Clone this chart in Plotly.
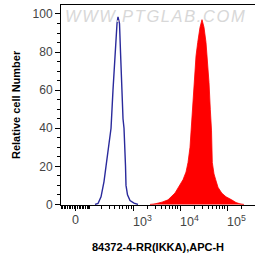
import numpy as np
import plotly.graph_objects as go

# ---- data (fluorescence intensity vs relative cell number) ----
blue_x = [131, 159, 190, 225, 251, 287, 328, 363, 403, 446, 469, 506, 532, 565,
          603, 634, 666, 683, 700, 754, 854, 1041, 1267]
blue_y = [0, 0.5, 4, 12, 20, 30, 40, 60, 80, 95, 98.5, 95, 80, 60,
          45, 40, 30, 20, 10, 5, 2, 0.7, 0]

red_x = [2284, 2919, 4114, 5520, 7780, 9940, 11510, 13340, 14710, 16220, 17040,
         18800, 19750, 21780, 23660, 26480, 29210, 32210, 35530, 38230, 41160,
         43850, 46500, 48360, 52600, 57140, 63960, 76680, 94620, 125200, 154400,
         187800, 228500]
red_y = [0, 0.3, 1.2, 2.4, 6, 10, 13, 17, 22, 30, 39,
         52, 64, 78, 85, 93, 97, 93, 85, 75, 64,
         50, 39, 22, 16, 13, 9, 6, 4, 2.4, 1, 0.3,
         0]

x_major_vals = [0, 1000, 10000, 100000]
x_major_text = ["0", "10<sup>3</sup>", "10<sup>4</sup>", "10<sup>5</sup>"]
x_minor_vals = ([-v for v in range(10, 100, 10)] + list(range(10, 100, 10)) +
                list(range(200, 1000, 100)) + list(range(2000, 10000, 1000)) +
                list(range(20000, 100000, 10000)) + [200000])
y_ticks = [0, 20, 40, 60, 80, 100]

# biexponential-like display transform
C = 120.0
def tf(v):
    return np.arcsinh(np.asarray(v, dtype=float) / C) / np.log(10)

FONT = "Liberation Sans, Arial, sans-serif"

fig = go.Figure()
fig.add_trace(go.Scatter(x=tf(red_x), y=red_y, mode="lines", fill="tozeroy",
                         line=dict(color="#ff0000", width=0.8),
                         fillcolor="#ff0000", hoverinfo="skip"))
fig.add_trace(go.Scatter(x=tf(blue_x), y=blue_y, mode="lines",
                         line=dict(color="#2a2a9c", width=1.4), hoverinfo="skip"))

# x tick labels (decade labels start at their tick, as in the reference)
tick_annots = []
for v, txt in zip(x_major_vals, x_major_text):
    tick_annots.append(dict(
        text=txt, xref="x", yref="paper", x=float(tf(v)), y=0,
        xanchor="center" if v == 0 else "left", xshift=0 if v == 0 else -2,
        yanchor="top", yshift=-6, showarrow=False,
        font=dict(family=FONT, size=12.5, color="#444")))

fig.update_layout(
    width=255, height=260,
    margin=dict(l=61, r=0, t=5, b=55),
    paper_bgcolor="white", plot_bgcolor="white",
    showlegend=False,
    font=dict(family=FONT, size=12, color="#444"),
    xaxis=dict(range=[-0.313, 3.815], showgrid=False, zeroline=False,
               automargin=False,
               showline=True, linecolor="black", linewidth=1, mirror=True,
               ticks="outside", ticklen=5, tickcolor="black", tickwidth=1,
               tickmode="array", tickvals=list(tf(x_major_vals)),
               showticklabels=False,
               minor=dict(tickmode="array", tickvals=list(tf(x_minor_vals)),
                          ticks="outside", ticklen=3, tickcolor="black")),
    yaxis=dict(range=[-0.3, 104.7], showgrid=False, zeroline=False,
               automargin=False,
               showline=True, linecolor="black", linewidth=1,
               ticks="outside", ticklen=5, tickcolor="black",
               tickmode="array", tickvals=y_ticks,
               tickfont=dict(size=12, color="#444"),
               minor=dict(dtick=5, ticks="outside", ticklen=3, tickcolor="black")),
    annotations=tick_annots + [
        dict(text="<b>Relative cell Number</b>", xref="paper", yref="paper",
             x=0, y=0.5, xanchor="center", yanchor="middle", xshift=-45,
             textangle=-90, showarrow=False,
             font=dict(family=FONT, size=11, color="black")),
        dict(text="<b>84372-4-RR(IKKA),APC-H</b>", xref="paper", yref="paper",
             x=0.5, y=0, xanchor="center", yanchor="middle", yshift=-42,
             showarrow=False, font=dict(family=FONT, size=11, color="black")),
        dict(text="<span style='letter-spacing:1.6px'><i>WWW.PTGLAB.COM</i></span>",
             xref="paper", yref="paper",
             x=0.01, y=1, xanchor="left", yanchor="top", yshift=0,
             showarrow=False, font=dict(family=FONT, size=16.5, color="#d8d8d8")),
    ],
)

fig.write_html("out.html", config={"displayModeBar": False},
               post_script="document.body.style.margin='0';document.body.style.padding='0';")
